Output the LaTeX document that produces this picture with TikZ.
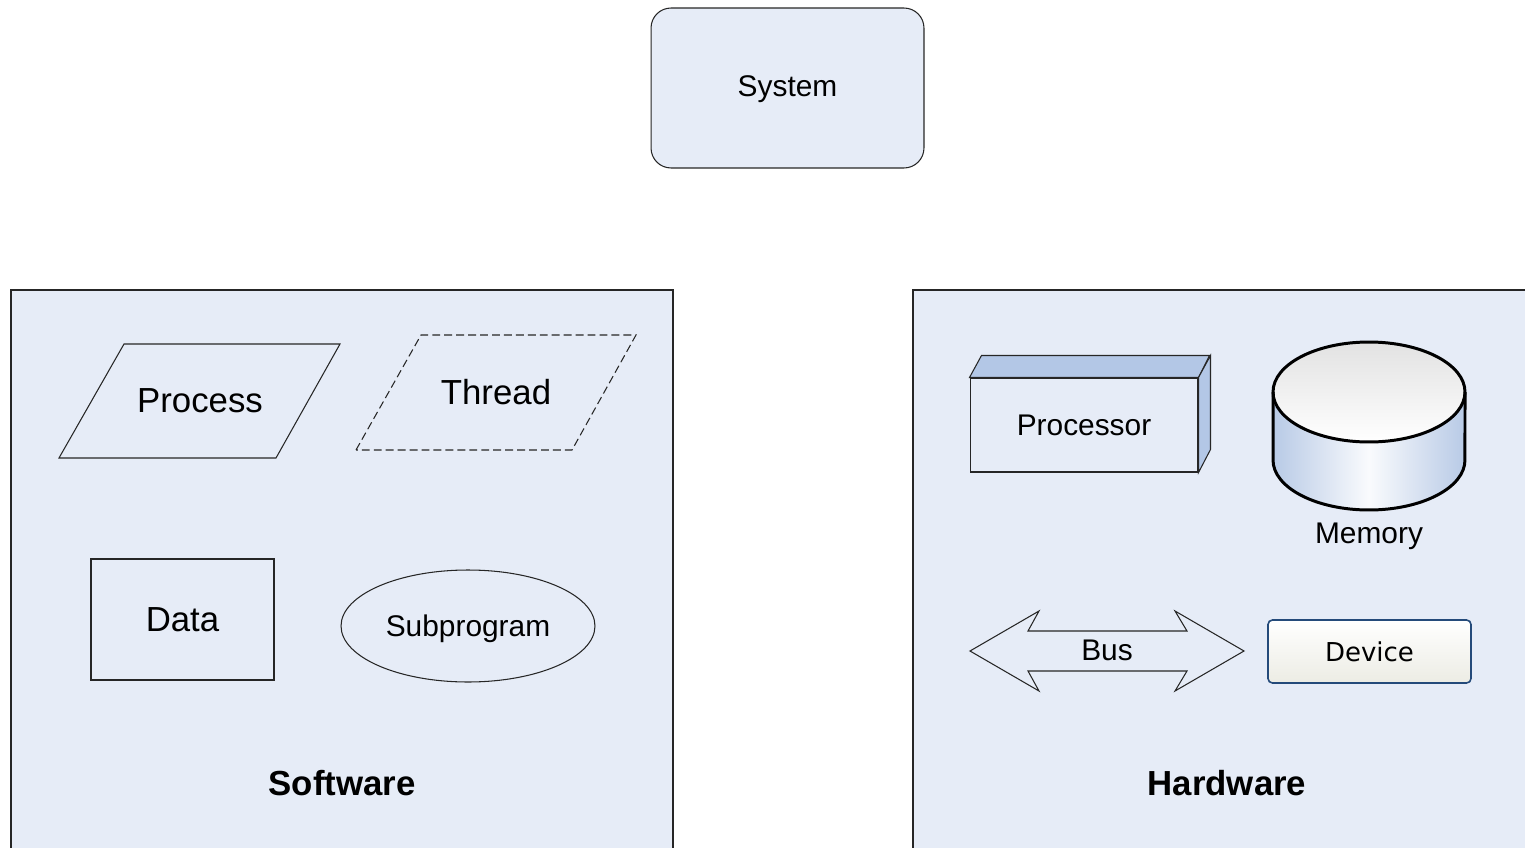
\documentclass[tikz,border=0pt]{standalone}
\usepackage{fontspec}
\setmainfont{Liberation Sans}
\newfontfamily\devfont{DejaVu Sans}
\usepackage{xcolor}
\usepackage{tikz}
\usetikzlibrary{positioning, shapes.geometric}

\definecolor{paneblue}{RGB}{230,236,247}
\definecolor{facetop}{RGB}{179,199,230}
\definecolor{cylside}{RGB}{184,202,230}
\definecolor{cyltop}{RGB}{226,226,226}
\definecolor{devgray}{RGB}{236,236,228}
\definecolor{devborder}{RGB}{36,74,122}

\begin{document}
\begin{tikzpicture}[x=0.02cm, y=-0.02cm,
        outline/.style={draw=black!85, line width=0.6pt},
        bigtext/.style={font=\fontsize{19.8}{22}\selectfont},
        smalltext/.style={font=\fontsize{17}{20}\selectfont},
        paneltitle/.style={font=\bfseries\fontsize{19.8}{22}\selectfont}]
        \useasboundingbox (0,0) rectangle (1525,848);

        % --- System on top ---
        \node[outline, fill=paneblue, rounded corners=0.4cm, minimum width=5.46cm,
            minimum height=3.2cm, smalltext, text height=0.45cm] (system) at (787.5,88) {System};

        % --- Column 1: Software ---
        \fill[paneblue] (11,290) rectangle (673,848);
        \draw[outline] (11,848) -- (11,290) -- (673,290) -- (673,848);
        % Process (parallelogram)
        \draw[outline] (59,458) -- (124,344) -- (340,344) -- (276,458) -- cycle;
        \node[bigtext] (process) at (200,401) {Process};
        % Thread (dashed parallelogram)
        \draw[outline, dash pattern=on 4.5pt off 2.3pt] (356,450) -- (421,335) -- (636,335) -- (572,450) -- cycle;
        \node[bigtext] (thread) at (496,392) {Thread};
        % Data and Subprogram
        \node[outline, minimum width=3.66cm, minimum height=2.42cm, bigtext] (data) at (182.5,619.5) {Data};
        \draw[outline] (468,626) ellipse[x radius=2.54cm, y radius=1.12cm];
        \node[smalltext] (subprogram) at (468,629) {Subprogram};
        \node[paneltitle] (software) at (342,783) {Software};

        % --- Column 2: Hardware ---
        \fill[paneblue] (913,290) rectangle (1525,848);
        \draw[outline] (913,848) -- (913,290) -- (1525,290);
        % Processor (box with top and side faces)
        \node[outline, fill=paneblue, minimum width=4.56cm, minimum height=1.88cm, smalltext] (processor) at (1084,425) {Processor};
        \draw[outline, fill=facetop] (processor.north west) -- ++(12,-22) -- ++(228,0) -- (processor.north east) -- cycle;
        \draw[outline, fill=facetop] (processor.north east) -- ++(12,-22) -- ++(0,94) -- (processor.south east) -- cycle;
        % Memory (cylinder)
        \coordinate (memtop) at (1369,392);
        \shade[left color=cylside, right color=cylside, middle color=white!92!cylside]
            (1273,392) -- (1273,460) arc[start angle=180, end angle=360, x radius=1.92cm, y radius=1cm] -- (1465,392) -- cycle;
        \shade[top color=cyltop, bottom color=white] (memtop) ellipse[x radius=1.92cm, y radius=1cm];
        \draw[line width=1.7pt] (memtop) ellipse[x radius=1.92cm, y radius=1cm];
        \draw[line width=1.7pt] (1273,392) -- (1273,460) arc[start angle=180, end angle=360, x radius=1.92cm, y radius=1cm] -- (1465,392);
        \node[smalltext] (memory) at (1369,536) {Memory};
        % Bus (double arrow)
        \draw[outline, fill=paneblue] (970,651) -- (1039,611) -- (1028,631) -- (1187,631) -- (1175,611) -- (1244,651)
            -- (1175,691) -- (1187,671) -- (1028,671) -- (1039,691) -- cycle;
        \node[smalltext] (bus) at (1107,650) {Bus};
        % Device
        \node[draw=devborder, line width=0.9pt, rounded corners=2.5pt, top color=white, bottom color=devgray,
            minimum width=4.06cm, minimum height=1.26cm, font=\devfont\fontsize{14.8}{17}\selectfont] (device) at (1369.5,651.5) {Device};
        \node[paneltitle] (hardware) at (1227,783) {Hardware};
\end{tikzpicture}
\end{document}
